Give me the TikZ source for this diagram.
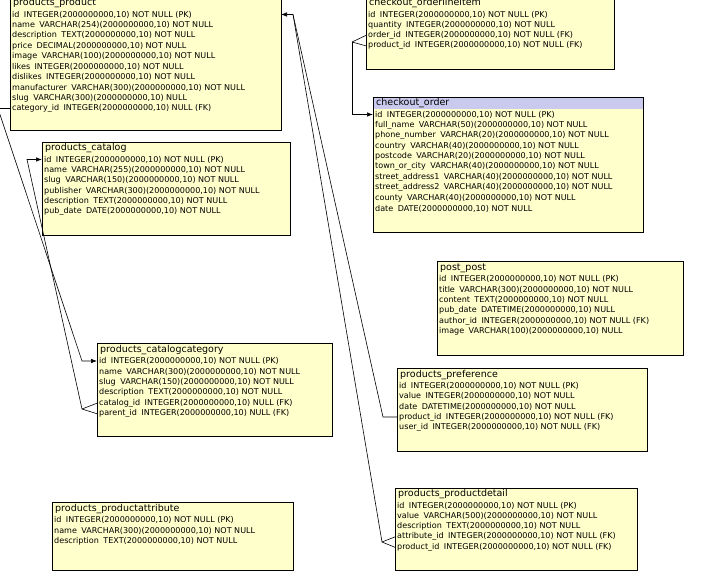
\documentclass[tikz,border=0pt]{standalone}
\usepackage{fontspec}
\setmainfont{DejaVu Sans}
\usetikzlibrary{arrows.meta}
\definecolor{tblfill}{RGB}{255,255,204}
\definecolor{hdrsel}{RGB}{202,202,238}
\newcommand\fs{\hspace{0.55em}}
\tikzset{
  tbl/.style={draw=black, line width=0.9pt, fill=tblfill, anchor=north west, inner sep=0pt, outer sep=0pt, rectangle},
  ttl/.style={anchor=west, inner xsep=3pt, inner ysep=0pt, font=\fontsize{9.5}{10}\selectfont},
  fld/.style={anchor=west, inner xsep=2pt, inner ysep=0pt, font=\fontsize{8.05}{9}\selectfont},
  rel/.style={draw=black, line width=0.6pt},
  relarrow/.style={rel, -{Latex[length=6pt,width=4.5pt]}},
}
\begin{document}
\begin{tikzpicture}[x=1pt,y=-1pt]
\clip (0,0) rectangle (702,588);
\fill[white] (0,0) rectangle (702,588);

% products_product
\node[tbl, minimum width=271pt, minimum height=133pt] (pp) at (10,-3) {};
\node[ttl] (pp-t) at (10,3.5) {products\_product};
\node[fld] (pp-id) at (10,14.5) {id\fs INTEGER(2000000000,10) NOT NULL (PK)};
\node[fld] (pp-name) at (10,24.95) {name\fs VARCHAR(254)(2000000000,10) NOT NULL};
\node[fld] (pp-desc) at (10,35.4) {description\fs TEXT(2000000000,10) NOT NULL};
\node[fld] (pp-price) at (10,45.85) {price\fs DECIMAL(2000000000,10) NOT NULL};
\node[fld] (pp-image) at (10,56.3) {image\fs VARCHAR(100)(2000000000,10) NOT NULL};
\node[fld] (pp-likes) at (10,66.75) {likes\fs INTEGER(2000000000,10) NOT NULL};
\node[fld] (pp-dislikes) at (10,77.2) {dislikes\fs INTEGER(2000000000,10) NOT NULL};
\node[fld] (pp-manu) at (10,87.65) {manufacturer\fs VARCHAR(300)(2000000000,10) NOT NULL};
\node[fld] (pp-slug) at (10,98.1) {slug\fs VARCHAR(300)(2000000000,10) NULL};
\node[fld] (pp-cat) at (10,108.55) {category\_id\fs INTEGER(2000000000,10) NULL (FK)};

% checkout_orderlineitem
\node[tbl, minimum width=248pt, minimum height=72pt] (oli) at (366,-3) {};
\node[ttl] (oli-t) at (366,3.5) {checkout\_orderlineitem};
\node[fld] (oli-id) at (366,14.5) {id\fs INTEGER(2000000000,10) NOT NULL (PK)};
\node[fld] (oli-qty) at (366,24.95) {quantity\fs INTEGER(2000000000,10) NOT NULL};
\node[fld] (oli-order) at (366,35.4) {order\_id\fs INTEGER(2000000000,10) NOT NULL (FK)};
\node[fld] (oli-prod) at (366,45.85) {product\_id\fs INTEGER(2000000000,10) NOT NULL (FK)};

% checkout_order
\node[tbl, minimum width=270pt, minimum height=135pt] (co) at (373,97) {};
\fill[hdrsel] (373,97) rectangle (643,109);
\draw[line width=0.9pt] (co.north west) rectangle (co.south east);
\node[ttl] (co-t) at (373,103) {checkout\_order};
\node[fld] (co-id) at (373,114.5) {id\fs INTEGER(2000000000,10) NOT NULL (PK)};
\node[fld] (co-fn) at (373,124.95) {full\_name\fs VARCHAR(50)(2000000000,10) NOT NULL};
\node[fld] (co-ph) at (373,135.4) {phone\_number\fs VARCHAR(20)(2000000000,10) NOT NULL};
\node[fld] (co-cn) at (373,145.85) {country\fs VARCHAR(40)(2000000000,10) NOT NULL};
\node[fld] (co-pc) at (373,156.3) {postcode\fs VARCHAR(20)(2000000000,10) NOT NULL};
\node[fld] (co-tc) at (373,166.75) {town\_or\_city\fs VARCHAR(40)(2000000000,10) NOT NULL};
\node[fld] (co-s1) at (373,177.2) {street\_address1\fs VARCHAR(40)(2000000000,10) NOT NULL};
\node[fld] (co-s2) at (373,187.65) {street\_address2\fs VARCHAR(40)(2000000000,10) NOT NULL};
\node[fld] (co-cy) at (373,198.1) {county\fs VARCHAR(40)(2000000000,10) NOT NULL};
\node[fld] (co-dt) at (373,208.55) {date\fs DATE(2000000000,10) NOT NULL};

% products_catalog
\node[tbl, minimum width=248pt, minimum height=93pt] (pc) at (42,142) {};
\node[ttl] (pc-t) at (42,148.5) {products\_catalog};
\node[fld] (pc-id) at (42,159.5) {id\fs INTEGER(2000000000,10) NOT NULL (PK)};
\node[fld] (pc-name) at (42,169.95) {name\fs VARCHAR(255)(2000000000,10) NOT NULL};
\node[fld] (pc-slug) at (42,180.4) {slug\fs VARCHAR(150)(2000000000,10) NOT NULL};
\node[fld] (pc-pub) at (42,190.85) {publisher\fs VARCHAR(300)(2000000000,10) NOT NULL};
\node[fld] (pc-desc) at (42,201.3) {description\fs TEXT(2000000000,10) NOT NULL};
\node[fld] (pc-date) at (42,211.75) {pub\_date\fs DATE(2000000000,10) NOT NULL};

% post_post
\node[tbl, minimum width=246pt, minimum height=94pt] (post) at (437,261) {};
\node[ttl] (post-t) at (437,268) {post\_post};
\node[fld] (post-id) at (437,279) {id\fs INTEGER(2000000000,10) NOT NULL (PK)};
\node[fld] (post-title) at (437,289.55) {title\fs VARCHAR(300)(2000000000,10) NOT NULL};
\node[fld] (post-content) at (437,300.1) {content\fs TEXT(2000000000,10) NOT NULL};
\node[fld] (post-date) at (437,310.65) {pub\_date\fs DATETIME(2000000000,10) NULL};
\node[fld] (post-author) at (437,321.2) {author\_id\fs INTEGER(2000000000,10) NOT NULL (FK)};
\node[fld] (post-image) at (437,331.75) {image\fs VARCHAR(100)(2000000000,10) NULL};

% products_catalogcategory
\node[tbl, minimum width=235pt, minimum height=93pt] (pcc) at (97,343) {};
\node[ttl] (pcc-t) at (97,350) {products\_catalogcategory};
\node[fld] (pcc-id) at (97,361) {id\fs INTEGER(2000000000,10) NOT NULL (PK)};
\node[fld] (pcc-name) at (97,371.55) {name\fs VARCHAR(300)(2000000000,10) NOT NULL};
\node[fld] (pcc-slug) at (97,382.1) {slug\fs VARCHAR(150)(2000000000,10) NOT NULL};
\node[fld] (pcc-desc) at (97,392.65) {description\fs TEXT(2000000000,10) NOT NULL};
\node[fld] (pcc-catalog) at (97,403.2) {catalog\_id\fs INTEGER(2000000000,10) NULL (FK)};
\node[fld] (pcc-parent) at (97,413.75) {parent\_id\fs INTEGER(2000000000,10) NULL (FK)};

% products_preference
\node[tbl, minimum width=250pt, minimum height=83pt] (pref) at (397,368) {};
\node[ttl] (pref-t) at (397,375) {products\_preference};
\node[fld] (pref-id) at (397,385.5) {id\fs INTEGER(2000000000,10) NOT NULL (PK)};
\node[fld] (pref-value) at (397,396) {value\fs INTEGER(2000000000,10) NOT NULL};
\node[fld] (pref-date) at (397,406.5) {date\fs DATETIME(2000000000,10) NOT NULL};
\node[fld] (pref-prod) at (397,417) {product\_id\fs INTEGER(2000000000,10) NOT NULL (FK)};
\node[fld] (pref-user) at (397,427.5) {user\_id\fs INTEGER(2000000000,10) NOT NULL (FK)};

% products_productdetail
\node[tbl, minimum width=242pt, minimum height=82pt] (pd) at (395,488) {};
\node[ttl] (pd-t) at (395,494.5) {products\_productdetail};
\node[fld] (pd-id) at (395,505.5) {id\fs INTEGER(2000000000,10) NOT NULL (PK)};
\node[fld] (pd-value) at (395,515.95) {value\fs VARCHAR(500)(2000000000,10) NOT NULL};
\node[fld] (pd-desc) at (395,526.4) {description\fs TEXT(2000000000,10) NOT NULL};
\node[fld] (pd-attr) at (395,536.85) {attribute\_id\fs INTEGER(2000000000,10) NOT NULL (FK)};
\node[fld] (pd-prod) at (395,547.3) {product\_id\fs INTEGER(2000000000,10) NOT NULL (FK)};

% products_productattribute
\node[tbl, minimum width=241pt, minimum height=68pt] (pa) at (52,502) {};
\node[ttl] (pa-t) at (52,509) {products\_productattribute};
\node[fld] (pa-id) at (52,520) {id\fs INTEGER(2000000000,10) NOT NULL (PK)};
\node[fld] (pa-name) at (52,530.5) {name\fs VARCHAR(300)(2000000000,10) NOT NULL};
\node[fld] (pa-desc) at (52,541) {description\fs TEXT(2000000000,10) NOT NULL};

% connectors
\coordinate (f1) at (352,42);
\draw[rel] (oli-order.west) -- (f1);
\draw[rel] (oli-prod.west) -- (f1);
\draw[relarrow] (f1) |- (co-id.west);

\coordinate (pbend) at (293,14.5);
\draw[relarrow] (pbend) -- (pp.east |- pp-id);
\coordinate (prefbend) at (383,417);
\draw[rel] (pref-prod.west) -- (prefbend) -- (pbend);
\coordinate (f2) at (382,542);
\draw[rel] (pd-attr.west) -- (f2);
\draw[rel] (pd-prod.west) -- (f2);
\draw[rel] (f2) -- (pbend);

\coordinate (catbend1) at (-2,108.55);
\coordinate (catbend2) at (82,361);
\draw[relarrow] (pp-cat.west) -- (catbend1) -- (catbend2) -- (pcc-id.west);
\coordinate (f3) at (82,409);
\coordinate (catbend3) at (27,159.5);
\draw[rel] (pcc-catalog.west) -- (f3);
\draw[rel] (pcc-parent.west) -- (f3);
\draw[relarrow] (f3) -- (catbend3) -- (pc-id.west);
\end{tikzpicture}
\end{document}
